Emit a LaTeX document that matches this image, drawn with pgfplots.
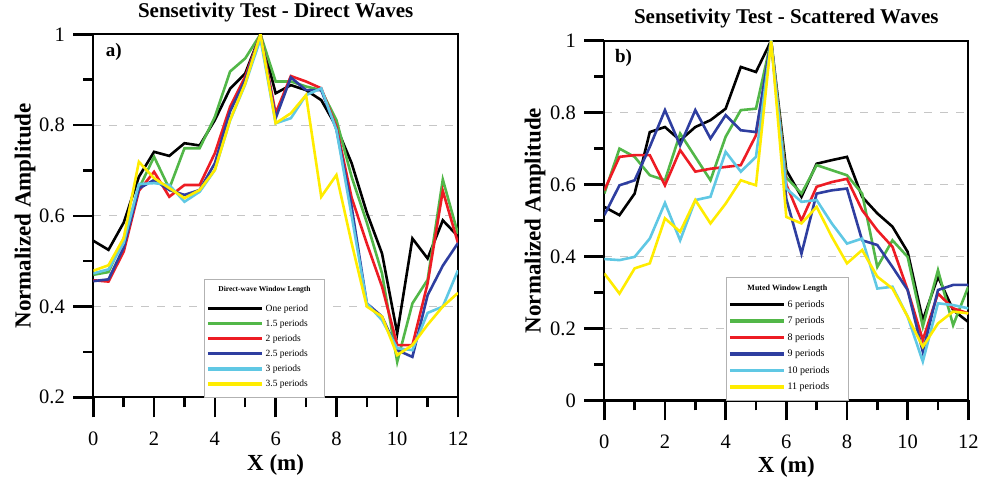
\documentclass[border=0pt]{standalone}
\usepackage{pgfplots}
\pgfplotsset{compat=1.18}
\usepackage{pgfplotstable}
\usepackage{fontspec}
\setmainfont{Liberation Serif}
\definecolor{cblack}{RGB}{0,0,0}
\definecolor{cgreen}{RGB}{82,183,72}
\definecolor{cred}{RGB}{237,28,36}
\definecolor{cblue}{RGB}{46,62,160}
\definecolor{ccyan}{RGB}{96,200,228}
\definecolor{cyellow}{RGB}{255,236,0}

\pgfplotstableread{
x a b c d e f
0 0.545 0.470 0.458 0.456 0.473 0.479
0.5 0.525 0.476 0.455 0.460 0.482 0.491
1 0.585 0.550 0.521 0.530 0.540 0.551
1.5 0.686 0.660 0.655 0.660 0.670 0.719
2 0.741 0.730 0.697 0.679 0.672 0.683
2.5 0.732 0.660 0.642 0.657 0.668 0.661
3 0.760 0.749 0.668 0.646 0.631 0.639
3.5 0.755 0.749 0.668 0.657 0.653 0.657
4 0.811 0.818 0.738 0.716 0.701 0.701
4.5 0.880 0.918 0.840 0.830 0.810 0.811
5 0.914 0.947 0.907 0.900 0.890 0.892
5.5 1.000 1.000 1.000 1.000 0.990 1.000
6 0.870 0.896 0.826 0.815 0.804 0.804
6.5 0.888 0.896 0.908 0.905 0.815 0.826
7 0.877 0.885 0.896 0.877 0.866 0.866
7.5 0.855 0.877 0.881 0.877 0.881 0.642
8 0.796 0.811 0.796 0.790 0.789 0.690
8.5 0.716 0.686 0.640 0.620 0.600 0.540
9 0.607 0.585 0.539 0.407 0.407 0.400
9.5 0.517 0.473 0.444 0.378 0.370 0.378
10 0.341 0.278 0.315 0.304 0.308 0.293
10.5 0.550 0.407 0.315 0.289 0.304 0.315
11 0.506 0.459 0.451 0.425 0.386 0.360
11.5 0.590 0.680 0.655 0.490 0.400 0.400
12 0.555 0.560 0.540 0.540 0.480 0.430
}\dataL

\pgfplotstableread{
x a b c d e f
0 0.538 0.575 0.584 0.515 0.393 0.353
0.5 0.515 0.700 0.677 0.598 0.390 0.297
1 0.575 0.677 0.682 0.612 0.399 0.367
1.5 0.746 0.626 0.682 0.705 0.450 0.381
2 0.760 0.612 0.598 0.807 0.549 0.506
2.5 0.723 0.742 0.696 0.709 0.445 0.469
3 0.760 0.677 0.636 0.807 0.557 0.557
3.5 0.779 0.612 0.644 0.728 0.566 0.492
4 0.811 0.733 0.649 0.793 0.691 0.547
4.5 0.927 0.807 0.654 0.751 0.636 0.612
5 0.913 0.811 0.737 0.746 0.677 0.598
5.5 1.000 1.000 1.000 1.000 1.000 1.000
6 0.640 0.620 0.600 0.560 0.589 0.510
6.5 0.566 0.575 0.500 0.408 0.552 0.492
7 0.658 0.654 0.594 0.575 0.557 0.538
7.5 0.668 0.640 0.607 0.584 0.492 0.455
8 0.677 0.626 0.616 0.589 0.436 0.381
8.5 0.566 0.575 0.529 0.445 0.450 0.418
9 0.520 0.371 0.473 0.432 0.311 0.344
9.5 0.483 0.445 0.427 0.371 0.316 0.311
10 0.413 0.399 0.307 0.307 0.233 0.233
10.5 0.223 0.205 0.168 0.135 0.108 0.149
11 0.344 0.362 0.297 0.307 0.270 0.214
11.5 0.251 0.209 0.256 0.321 0.265 0.247
12 0.218 0.316 0.242 0.321 0.256 0.242
}\dataR

\pgfplotsset{
 myaxis/.style={
  scale only axis,
  anchor=south west,
  xmin=0, xmax=12,
  xtick={0,2,4,6,8,10,12}, minor xtick={1,3,5,7,9,11},
  axis line style={line width=2.2pt},
  xtick pos=left, ytick pos=left,
  xtick align=outside, ytick align=outside,
  major tick length=20pt, minor tick length=10pt,
  every major tick/.append style={line width=2.4pt, draw=black},
  every minor tick/.append style={line width=2.4pt, draw=black},
  ymajorgrids,
  major grid style={gray!45, line width=1pt, dash pattern=on 8pt off 8pt},
  tick label style={font=\fontsize{20.5}{22}\selectfont},
  xticklabel style={yshift=-11pt},
  yticklabel style={xshift=-5pt},
  /pgf/number format/assume math mode=true,
  xlabel={X (m)}, ylabel={Normalized Amplitude},
  label style={font=\bfseries\fontsize{23}{25}\selectfont},
  title style={font=\bfseries\fontsize{21}{23}\selectfont, at={(axis description cs:0.5,1)}, anchor=center, yshift=16pt},
  every axis plot/.append style={line width=2.6pt, no markers},
  legend cell align=left,
  legend image code/.code={\draw[#1, line width=3.4pt] (0pt,0pt) -- (54pt,0pt);},
  legend style={anchor=south west, draw=gray!60, line width=0.6pt,
    inner xsep=2pt, inner ysep=7pt},
 }
}

\begin{document}
\begin{tikzpicture}
\useasboundingbox (0,0) rectangle (982pt,483pt);
\begin{axis}[myaxis, at={(93.3pt,85.7pt)}, width=364.7pt, height=363pt,
  ymin=0.2, ymax=1, ytick={0.2,0.4,0.6,0.8,1}, minor ytick={0.3,0.5,0.7,0.9},
  title={Sensetivity Test - Direct Waves},
  xlabel style={at={(axis description cs:0.5,-0.187)}, anchor=center},
  ylabel style={at={(axis description cs:-0.187,0.5)}, anchor=center},
  legend style={at={(axis description cs:0.3035,0)}, name=legL,
    font=\fontsize{9.5}{10}\selectfont, row sep=3pt}]
\addlegendimage{empty legend}\addlegendentry{\rule{0pt}{7.5pt}}
\addplot[cblack] table[x=x,y=a]{\dataL};\addlegendentry{\makebox[55pt][l]{One period}}
\addplot[cgreen] table[x=x,y=b]{\dataL};\addlegendentry{1.5 periods}
\addplot[cred] table[x=x,y=c]{\dataL};\addlegendentry{2 periods}
\addplot[cblue] table[x=x,y=d]{\dataL};\addlegendentry{2.5 periods}
\addplot[ccyan] table[x=x,y=e]{\dataL};\addlegendentry{3 periods}
\addplot[cyellow] table[x=x,y=f]{\dataL};\addlegendentry{3.5 periods}
\node[anchor=north west, font=\bfseries\fontsize{19}{21}\selectfont] at (axis description cs:0.025,0.985) {a)};
\end{axis}
\node[font=\bfseries\fontsize{7.5}{9}\selectfont, anchor=center] at ([yshift=-11pt]legL.north) {Direct-wave Window Length};

\begin{axis}[myaxis, at={(604.3pt,82.6pt)}, width=364pt, height=359.7pt,
  ymin=0, ymax=1, ytick={0,0.2,0.4,0.6,0.8,1}, minor ytick={0.1,0.3,0.5,0.7,0.9},
  title={Sensetivity Test - Scattered Waves},
  xlabel style={at={(axis description cs:0.5,-0.185)}, anchor=center},
  ylabel style={at={(axis description cs:-0.19,0.5)}, anchor=center},
  legend style={at={(axis description cs:0.334,0)}, name=legR,
    font=\fontsize{10}{11}\selectfont, row sep=4pt}]
\addlegendimage{empty legend}\addlegendentry{\rule{0pt}{4.5pt}}
\addplot[cblack] table[x=x,y=a]{\dataR};\addlegendentry{\makebox[57pt][l]{6 periods}}
\addplot[cgreen] table[x=x,y=b]{\dataR};\addlegendentry{7 periods}
\addplot[cred] table[x=x,y=c]{\dataR};\addlegendentry{8 periods}
\addplot[cblue] table[x=x,y=d]{\dataR};\addlegendentry{9 periods}
\addplot[ccyan] table[x=x,y=e]{\dataR};\addlegendentry{10 periods}
\addplot[cyellow] table[x=x,y=f]{\dataR};\addlegendentry{11 periods}
\node[anchor=north west, font=\bfseries\fontsize{19}{21}\selectfont] at (axis description cs:0.02,0.985) {b)};
\end{axis}
\node[font=\bfseries\fontsize{8}{9}\selectfont, anchor=center] at ([yshift=-11pt]legR.north) {Muted Window Length};
\end{tikzpicture}
\end{document}
